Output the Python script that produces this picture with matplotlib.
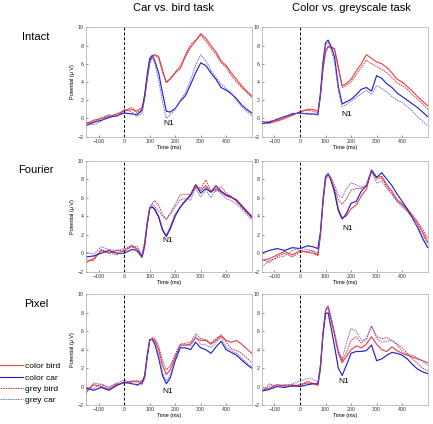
import numpy as np
import matplotlib

matplotlib.use("Agg")
import matplotlib.pyplot as plt
from matplotlib.lines import Line2D

plt.rcParams["font.family"] = ["Liberation Sans", "DejaVu Sans"]

# time grid (ms)
T = [-150, -120, -90, -60, -30, 0, 30, 50, 70, 80, 90, 100, 110, 120, 135, 150, 165,
     180, 200, 220, 240, 260, 280, 300, 320, 340, 360, 380, 400, 420, 440, 460, 480, 500]

ROWS = ["Intact", "Fourier", "Pixel"]
COLS = ["Car vs. bird task", "Color vs. greyscale task"]
SERIES = ["color bird", "color car", "grey bird", "grey car"]

# Intact, car vs bird
intact_cb_color_bird = [-0.6, -0.2, 0.0, 0.2, 0.5, 0.8, 1.0, 0.8, 1.2, 2.5, 4.5, 6.3, 6.9, 7.0, 6.8, 5.3, 4.0,
                        4.3, 5.0, 5.5, 6.8, 7.8, 8.5, 9.3, 8.8, 8.0, 7.3, 6.3, 5.8, 5.0, 4.3, 3.6, 3.0, 2.5]
intact_cb_grey_bird = [-0.4, -0.5, 0.1, 0.4, 0.2, 0.9, 1.2, 0.6, 1.0, 2.2, 4.2, 6.0, 6.7, 6.9, 6.6, 5.1, 3.9,
                       4.4, 5.1, 5.8, 7.0, 8.1, 8.6, 9.1, 8.5, 7.7, 7.0, 6.1, 5.6, 4.7, 4.0, 3.4, 2.9, 2.3]
intact_cb_color_car = [-0.8, -0.4, -0.2, 0.1, 0.3, 0.6, 0.5, 0.4, 0.9, 2.5, 4.8, 6.6, 6.9, 6.3, 5.0, 2.8, 0.8,
                       0.7, 1.1, 1.9, 2.5, 3.7, 5.0, 6.1, 5.8, 5.0, 4.3, 3.4, 3.1, 2.7, 2.2, 1.5, 1.0, 0.6]
intact_cb_grey_car = [-0.5, -0.7, -0.3, 0.4, 0.2, 1.0, 0.7, 0.2, 0.6, 2.0, 4.2, 6.2, 6.8, 6.0, 4.2, 1.8, 0.0,
                      0.4, 1.0, 2.0, 2.8, 4.2, 5.8, 7.0, 6.3, 5.3, 4.5, 3.8, 3.3, 2.8, 2.0, 1.3, 0.8, 0.3]

# Intact, color vs grey
intact_cg_color_bird = [-0.3, -0.5, -0.3, 0.0, 0.4, 0.7, 1.0, 1.0, 0.8, 2.5, 5.5, 7.4, 7.9, 7.8, 7.6, 5.5, 3.6,
                        3.8, 4.3, 5.2, 6.0, 7.0, 6.6, 6.2, 6.0, 5.6, 5.0, 4.3, 4.0, 3.5, 3.0, 2.4, 1.9, 1.4]
intact_cg_grey_bird = [-0.5, -0.3, -0.2, 0.2, 0.3, 0.8, 0.9, 0.8, 0.6, 2.3, 5.3, 7.2, 7.8, 7.9, 7.7, 5.8, 3.4,
                       3.6, 4.0, 4.8, 5.6, 6.4, 6.0, 5.7, 5.4, 5.0, 4.5, 3.9, 3.6, 3.2, 2.6, 2.1, 1.6, 1.0]
intact_cg_color_car = [-0.6, -0.4, -0.1, 0.2, 0.5, 0.6, 0.5, 0.5, 0.4, 2.8, 6.2, 8.3, 8.6, 8.0, 6.8, 3.5, 1.6,
                       1.8, 2.1, 2.6, 3.2, 3.4, 3.0, 4.7, 4.4, 3.8, 3.4, 2.8, 2.4, 2.0, 1.6, 1.2, 0.7, 0.2]
intact_cg_grey_car = [-0.4, -0.6, 0.0, 0.1, 0.6, 0.5, 0.6, 0.4, 0.5, 2.6, 6.0, 8.0, 8.3, 7.7, 6.2, 3.0, 1.3,
                      1.5, 1.9, 2.3, 2.7, 3.1, 2.6, 3.6, 3.3, 2.9, 2.4, 2.0, 1.8, 1.3, 0.8, 0.2, -0.3, -0.8]

# Fourier, car vs bird
fourier_cb_color_bird = [-1.0, -0.6, 0.3, 0.0, 0.3, 0.2, 0.8, 0.5, -0.3, 0.8, 3.0, 4.8, 5.0, 4.8, 4.0, 2.6, 1.9,
                         2.8, 4.2, 5.0, 5.6, 6.2, 7.2, 6.8, 7.3, 6.6, 7.0, 6.6, 6.2, 6.0, 5.8, 5.2, 4.6, 4.0]
fourier_cb_grey_bird = [-0.7, -0.8, 0.4, 0.1, -0.2, 0.4, 0.9, 0.2, -0.5, 0.6, 3.0, 4.9, 5.4, 5.7, 5.2, 4.2, 3.7,
                        4.3, 5.3, 6.3, 6.4, 6.3, 7.4, 7.0, 7.9, 6.8, 6.7, 7.2, 6.5, 6.1, 5.6, 5.0, 4.4, 3.8]
fourier_cb_color_car = [-0.4, -0.3, 0.0, 0.3, 0.0, 0.0, 0.4, 0.3, -0.4, 1.0, 3.2, 4.9, 5.0, 4.7, 3.9, 2.5, 1.8,
                        2.6, 4.0, 5.0, 5.7, 6.3, 7.4, 6.5, 7.0, 6.6, 7.3, 6.7, 6.3, 6.1, 5.7, 5.1, 4.5, 3.9]
fourier_cb_grey_car = [0.1, -0.1, 0.7, 0.4, 0.3, 0.5, 0.6, 0.8, -0.2, 1.2, 3.5, 5.0, 5.3, 5.0, 4.6, 4.0, 3.6,
                       4.2, 5.0, 5.8, 5.9, 5.7, 7.0, 6.1, 6.8, 6.0, 6.9, 6.4, 5.9, 5.7, 5.3, 4.8, 4.2, 3.6]

# Fourier, color vs grey
fourier_cg_color_bird = [-0.8, -0.6, -0.2, 0.2, -0.2, 0.3, 0.1, 0.0, -0.2, 2.0, 5.5, 8.0, 8.5, 8.1, 6.8, 4.8, 3.8,
                         4.0, 4.8, 5.2, 6.2, 6.9, 8.9, 8.2, 8.3, 7.4, 6.7, 5.8, 5.3, 4.6, 4.0, 3.2, 2.3, 1.2]
fourier_cg_grey_bird = [-0.6, -1.0, -0.4, 0.0, -0.4, 0.1, 0.2, 0.3, -0.3, 1.8, 5.3, 8.0, 8.6, 8.0, 7.0, 5.8, 5.3,
                        5.8, 6.8, 7.0, 7.0, 7.3, 8.8, 8.0, 8.1, 7.2, 6.4, 5.6, 5.2, 4.8, 4.2, 3.4, 2.6, 1.6]
fourier_cg_color_car = [0.0, 0.3, 0.5, 0.3, 0.6, 0.5, 0.8, 0.7, 0.5, 2.3, 5.8, 8.3, 8.6, 8.0, 6.6, 4.6, 3.7,
                        4.2, 5.4, 5.6, 6.7, 7.3, 9.0, 8.2, 8.7, 8.0, 7.3, 6.4, 5.6, 4.8, 3.8, 2.8, 1.6, 0.6]
fourier_cg_grey_car = [-1.5, -0.8, -0.5, -0.3, 0.3, 0.5, 0.4, 0.2, 0.0, 2.1, 5.6, 8.2, 8.6, 8.3, 7.4, 6.3, 6.0,
                       6.9, 7.6, 7.4, 7.1, 7.4, 8.9, 7.6, 7.8, 7.0, 6.4, 5.6, 5.0, 4.5, 3.8, 2.9, 2.0, 1.0]

# Pixel, car vs bird
pixel_cb_color_bird = [-0.5, 0.2, 0.0, -0.3, 0.2, 0.4, 0.6, 0.5, 0.6, 1.0, 3.2, 5.0, 5.2, 5.0, 4.0, 2.3, 1.3,
                       1.8, 3.2, 4.5, 4.5, 4.6, 5.3, 5.0, 5.0, 4.6, 5.0, 5.5, 5.0, 4.8, 5.0, 4.6, 4.1, 3.6]
pixel_cb_grey_bird = [-0.8, 0.4, 0.2, -0.1, 0.3, 0.3, 0.5, 0.7, 0.3, 0.8, 3.0, 4.9, 5.3, 5.2, 4.4, 2.8, 1.8,
                      2.2, 3.5, 4.6, 4.7, 4.8, 5.7, 5.2, 5.1, 4.7, 5.2, 5.6, 4.8, 4.1, 3.9, 3.6, 3.1, 2.6]
pixel_cb_color_car = [-0.2, -0.4, -0.1, -0.4, 0.1, 0.5, 0.3, 0.2, 0.4, 1.2, 3.4, 5.1, 5.1, 4.6, 3.1, 1.2, 0.3,
                      0.9, 2.8, 4.2, 4.2, 4.0, 4.8, 4.2, 4.0, 3.6, 4.3, 4.9, 4.0, 3.7, 3.4, 2.9, 2.4, 2.0]
pixel_cb_grey_car = [-0.1, -0.2, 0.3, -0.1, 0.4, 0.7, 0.4, 0.1, 0.2, 1.0, 3.2, 5.0, 5.2, 4.8, 3.4, 1.5, 0.6,
                     1.2, 3.0, 4.4, 4.5, 4.4, 5.4, 4.6, 4.5, 4.2, 4.8, 5.3, 4.3, 3.9, 3.6, 3.1, 2.6, 2.1]

# Pixel, color vs grey
pixel_cg_color_bird = [-0.4, -0.2, 0.2, 0.1, 0.0, 0.2, 0.4, 0.3, 0.2, 2.0, 5.8, 8.2, 8.6, 7.4, 5.6, 3.6, 2.6,
                       3.2, 4.0, 4.4, 4.2, 4.6, 5.4, 4.6, 4.0, 3.8, 4.3, 3.9, 3.6, 3.4, 3.2, 3.0, 2.8, 2.6]
pixel_cg_grey_bird = [-0.6, 0.3, 0.0, 0.2, 0.2, 0.1, 0.6, 0.4, 0.1, 1.8, 5.6, 8.3, 8.7, 7.6, 5.8, 3.8, 2.8,
                      3.6, 5.0, 5.4, 4.7, 5.2, 6.6, 5.4, 5.2, 5.3, 5.0, 4.6, 4.2, 3.6, 3.0, 2.5, 2.0, 1.7]
pixel_cg_color_car = [-0.5, -0.3, 0.0, -0.1, 0.1, 0.0, 0.2, 0.3, 0.3, 2.2, 5.6, 7.9, 8.0, 6.6, 4.4, 2.0, 1.2,
                      2.2, 3.6, 3.8, 3.8, 3.9, 4.5, 2.8, 3.0, 3.4, 3.7, 3.6, 3.4, 3.0, 2.4, 1.9, 1.6, 1.4]
pixel_cg_grey_car = [-0.3, 0.0, 0.2, 0.0, 0.3, 0.6, 0.9, 0.8, 0.5, 2.4, 6.0, 8.4, 8.8, 7.8, 6.0, 4.0, 3.0,
                     4.6, 6.3, 6.0, 5.0, 5.2, 6.5, 5.2, 4.8, 4.9, 5.0, 4.5, 3.8, 3.5, 3.4, 3.1, 2.8, 2.3]

PANELS = {
    (0, 0): [intact_cb_color_bird, intact_cb_color_car, intact_cb_grey_bird, intact_cb_grey_car],
    (0, 1): [intact_cg_color_bird, intact_cg_color_car, intact_cg_grey_bird, intact_cg_grey_car],
    (1, 0): [fourier_cb_color_bird, fourier_cb_color_car, fourier_cb_grey_bird, fourier_cb_grey_car],
    (1, 1): [fourier_cg_color_bird, fourier_cg_color_car, fourier_cg_grey_bird, fourier_cg_grey_car],
    (2, 0): [pixel_cb_color_bird, pixel_cb_color_car, pixel_cb_grey_bird, pixel_cb_grey_car],
    (2, 1): [pixel_cg_color_bird, pixel_cg_color_car, pixel_cg_grey_bird, pixel_cg_grey_car],
}

# N1 label positions (ms, uV)
N1_POS = {
    (0, 0): (176, -0.6), (0, 1): (182, 0.4),
    (1, 0): (172, 1.4), (1, 1): (185, 2.7),
    (2, 0): (169, -0.5), (2, 1): (172, 0.6),
}

STYLES = [
    dict(color="#e8474d", ls="-", lw=0.85),
    dict(color="#2424c8", ls="-", lw=0.85),
    dict(color="#d41f1f", ls=(0, (2, 1)), lw=0.6),
    dict(color="#6262e0", ls=(0, (2, 1)), lw=0.6),
]

W, H = 433, 424
fig = plt.figure(figsize=(W / 100, H / 100), dpi=100)

col_x = [(86, 165.7), (261.7, 166)]
row_y = [(27.3, 136.7), (160.7, 271.7), (294.3, 405)]

for (r, c), series in PANELS.items():
    x0, w = col_x[c]
    top, bot = row_y[r]
    ax = fig.add_axes([x0 / W, 1 - bot / H, w / W, (bot - top) / H])
    for vals, st in zip(series, STYLES):
        ax.plot(T, vals, **st)
    ax.axvline(0, color="black", ls=(0, (3, 2)), lw=0.7)
    ax.set_xlim(-150, 500)
    ax.set_ylim(-2, 10)
    ax.set_xticks([-100, 0, 100, 200, 300, 400])
    ax.set_yticks([-2, 0, 2, 4, 6, 8, 10])
    ax.tick_params(direction="in", length=1.5, width=0.4, labelsize=3.8, pad=1.5, colors="#333333")
    for sp in ax.spines.values():
        sp.set_color("#aaaaaa")
        sp.set_linewidth(0.5)
    ax.set_xlabel("Time (ms)", fontsize=4, labelpad=1)
    if c == 0:
        ax.set_ylabel("Potential (\u03bc V)", fontsize=4, labelpad=2)
    nx, ny = N1_POS[(r, c)]
    ax.text(nx, ny, "N1", fontsize=6, ha="center", va="center")

fig.text(173 / W, 1 - 8 / H, COLS[0], fontsize=8, ha="center", va="center")
fig.text(351 / W, 1 - 8 / H, COLS[1], fontsize=8, ha="center", va="center")
for name, y in zip(ROWS, [37, 170, 304]):
    fig.text(36 / W, 1 - y / H, name, fontsize=8, ha="center", va="center")

handles = [Line2D([0], [0], **st) for st in STYLES]
fig.legend(handles, SERIES, loc="upper left", bbox_to_anchor=(-0.008, 1 - 359 / H),
           frameon=False, fontsize=6, handlelength=2.8, handletextpad=0.2,
           labelspacing=0.42, borderaxespad=0)

fig.savefig("out.png", dpi=100)
